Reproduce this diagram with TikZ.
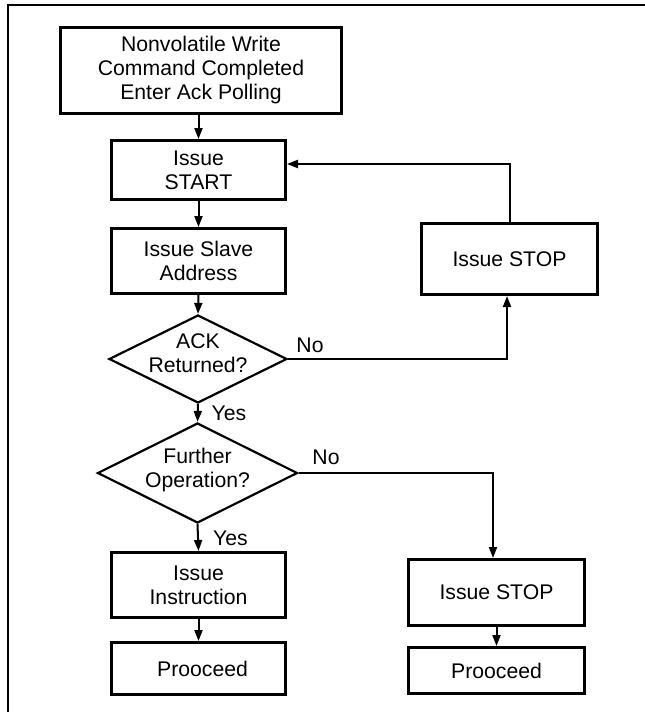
\documentclass[tikz,border=0pt]{standalone}
\usepackage{fontspec}
\setmainfont{Liberation Sans}
\usetikzlibrary{shapes.geometric,arrows.meta}
\tikzset{
  x=1pt, y=-1pt,
  txt/.style={font=\fontsize{21.2}{24}\selectfont, align=center, inner sep=0pt},
  box/.style={txt, draw, line width=3pt, rectangle},
  decision/.style={draw, diamond, line width=2.2pt, inner sep=0pt, aspect=2},
  conn/.style={line width=2pt, -{Triangle[length=11pt,width=8pt]}},
  lbl/.style={txt},
  frame/.style={line width=2pt}
}
\begin{document}
\begin{tikzpicture}
\useasboundingbox (0,0) rectangle (645,712);
\draw[frame] (8,712) -- (8,5) -- (645,5);

\node[box, minimum width=281pt, minimum height=86pt] (top) at (201,70.5) {Nonvolatile Write\\Command Completed\\Enter Ack Polling};
\node[box, minimum width=174pt, minimum height=59pt] (start) at (198.5,170) {Issue\\START};
\node[box, minimum width=174pt, minimum height=65pt] (slave) at (198.5,261) {Issue Slave\\Address};
\node[decision, minimum width=178pt, minimum height=88pt] (ack) at (198,359) {};
\node[txt] (acktxt) at (198,353) {ACK\\Returned?};
\node[decision, minimum width=200pt, minimum height=100pt] (further) at (197.5,473) {};
\node[txt] (furthertxt) at (197.5,470) {Further\\Operation?};
\node[box, minimum width=174pt, minimum height=65pt] (instr) at (198.5,585) {Issue\\Instruction};
\node[box, minimum width=174pt, minimum height=52pt] (pro1) at (198.5,668.5) {\hspace*{8pt}Prooceed};
\node[box, minimum width=176pt, minimum height=71pt] (stopR) at (509.5,259) {Issue STOP};
\node[box, minimum width=176pt, minimum height=66pt] (stop2) at (496.5,592.5) {Issue STOP};
\node[box, minimum width=176pt, minimum height=46pt] (pro2) at (496.5,670.5) {Prooceed};

\node[lbl] (no1) at (310,345) {No};
\node[lbl] (yes1) at (229,413) {Yes};
\node[lbl] (no2) at (326,457) {No};
\node[lbl] (yes2) at (230.5,538) {Yes};

\coordinate (c1) at (507,296);
\coordinate (c2) at (510,222);
\coordinate (c3) at (493,558);

\draw[conn] (start.north |- top.south) -- (start.north);
\draw[conn] (start.south) -- (slave.north);
\draw[conn] (slave.south) -- (ack.north);
\draw[conn] (ack.south) -- (further.north);
\draw[conn] (further.south) -- (instr.north);
\draw[conn] (instr.south) -- (pro1.north);
\draw[conn] (stop2.south) -- (pro2.north);
\draw[conn] (ack.east) -| (c1);
\draw[conn] (c2) |- ([yshift=6pt]start.east);
\draw[conn] (further.east) -| (c3);
\end{tikzpicture}
\end{document}
